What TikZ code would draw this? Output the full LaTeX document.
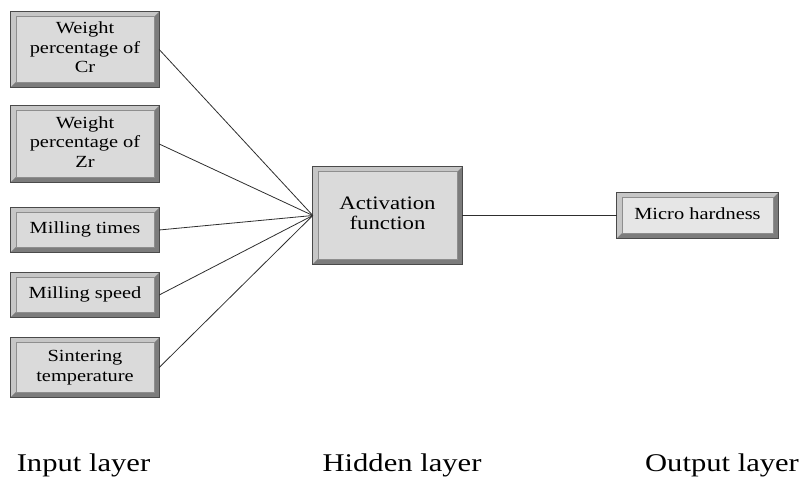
\documentclass[tikz,border=0pt]{standalone}
\usepackage{fontspec}
\setmainfont{Liberation Serif}
\usepackage{graphicx}
\definecolor{facecol}{HTML}{DADADA}
\definecolor{facelite}{HTML}{E6E6E6}
\definecolor{bevlight}{HTML}{C6C6C6}
\definecolor{bevdark}{HTML}{7C7C7C}
\definecolor{edgecol}{HTML}{4A4A4A}
\definecolor{innercol}{HTML}{8E8E8E}
\definecolor{linkcol}{HTML}{2E2E2E}
\newcommand\stretchtext[1]{\scalebox{1.2}[1]{\begin{tabular}{@{}c@{}}#1\end{tabular}}}
\newcommand\bevelbox[1]{%
  \fill[bevlight] (#1.south west) -- (#1.north west) -- (#1.north east)
     -- ([shift={(-5,-5)}]#1.north east) -- ([shift={(5,-5)}]#1.north west)
     -- ([shift={(5,5)}]#1.south west) -- cycle;
  \fill[bevdark] (#1.south west) -- (#1.south east) -- (#1.north east)
     -- ([shift={(-5,-5)}]#1.north east) -- ([shift={(-5,5)}]#1.south east)
     -- ([shift={(5,5)}]#1.south west) -- cycle;
  \draw[innercol, line width=0.6pt] ([shift={(5,5)}]#1.south west) rectangle ([shift={(-5,-5)}]#1.north east);
  \draw[edgecol, line width=1pt] (#1.south west) rectangle (#1.north east);
}
\begin{document}
\begin{tikzpicture}[x=1pt,y=1pt,
  box/.style={rectangle, fill=facecol, inner sep=0pt, font=\fontsize{17}{19.5}\selectfont},
  layerlabel/.style={anchor=base, inner sep=0pt, font=\fontsize{25.5}{28}\selectfont},
  link/.style={linkcol, line width=0.8pt}]
\useasboundingbox (0,0) rectangle (802,478);

% input boxes
\node[box, minimum width=148, minimum height=75] (cr) at (85,428.5) {\stretchtext{Weight\\percentage of\\Cr}};
\node[box, minimum width=148, minimum height=76] (zr) at (85,334) {\stretchtext{Weight\\percentage of\\Zr}};
\node[box, minimum width=148, minimum height=44] (mt) at (85,248) {\stretchtext{Milling times}};
\node[box, minimum width=148, minimum height=44] (ms) at (85,183) {\stretchtext{Milling speed}};
\node[box, minimum width=148, minimum height=59] (st) at (85,110.5) {\stretchtext{Sintering\\temperature}};

% hidden
\node[box, minimum width=149, minimum height=97, font=\fontsize{19}{20.5}\selectfont] (act) at (387.5,262.5) {\stretchtext{Activation\\function}};

% output
\node[box, fill=facelite, minimum width=161, minimum height=45] (mh) at (697.5,262.5) {\stretchtext{Micro hardness}};

\bevelbox{cr}
\bevelbox{zr}
\bevelbox{mt}
\bevelbox{ms}
\bevelbox{st}
\bevelbox{act}
\bevelbox{mh}

% connectors
\foreach \n in {cr,zr,mt,ms,st}
  \draw[link] (\n.east) -- (act.west);
\draw[link] (act.east) -- (mh.west);

% layer labels
\node[layerlabel] (inl) at (83.5,6) {\scalebox{1.2}[1]{Input layer}};
\node[layerlabel] (hidl) at (402,6) {\scalebox{1.2}[1]{Hidden layer}};
\node[layerlabel] (outl) at (722,6) {\scalebox{1.2}[1]{Output layer}};
\end{tikzpicture}
\end{document}
